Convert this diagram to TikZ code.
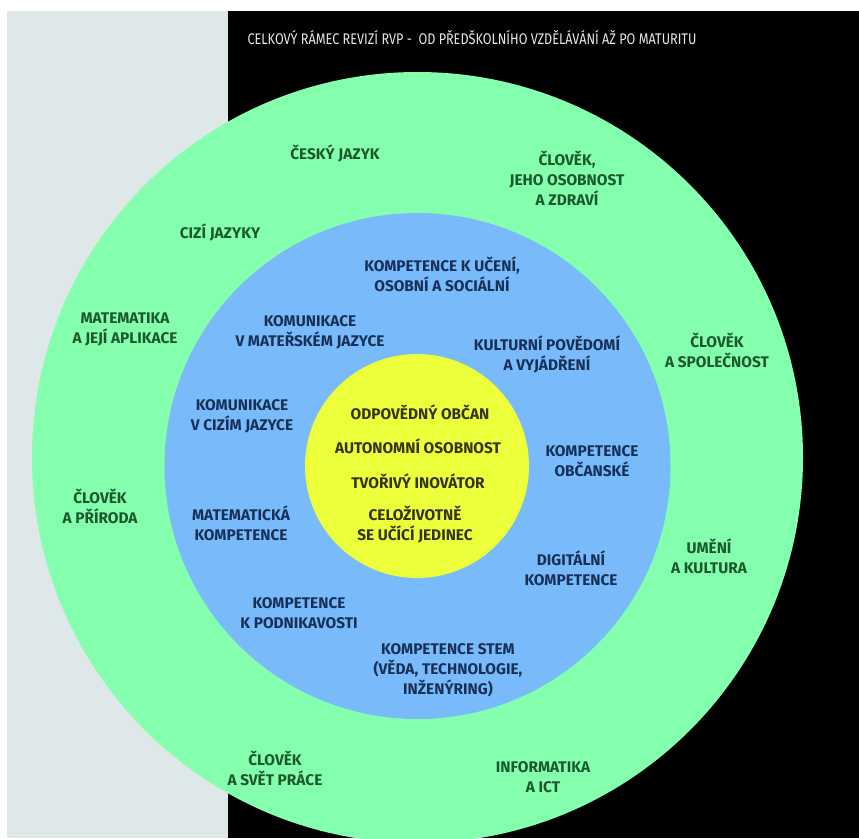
\documentclass[tikz,border=0pt]{standalone}
\usepackage{fontspec}
\setmainfont{Fira Sans}
\newfontfamily\titlefont[FakeStretch=0.82]{Fira Sans}
\usetikzlibrary{positioning}
\definecolor{bgleft}{RGB}{223,232,232}
\definecolor{ringgreen}{RGB}{132,255,174}
\definecolor{ringblue}{RGB}{120,186,250}
\definecolor{coreyellow}{RGB}{236,255,58}
\definecolor{subjtext}{RGB}{28,88,44}
\definecolor{komptext}{RGB}{24,48,88}
\definecolor{idealtext}{RGB}{52,52,20}
\definecolor{titletext}{RGB}{232,232,232}

\begin{document}
\begin{tikzpicture}[x=1pt,y=-1pt,
  lbl/.style={align=center,inner sep=0pt,font=\bfseries\fontsize{15.4}{20}\selectfont},
  subj/.style={lbl,text=subjtext},
  komp/.style={lbl,text=komptext},
  ideal/.style={lbl,text=idealtext}]
  \useasboundingbox (0,0) rectangle (859,838);
  \fill[bgleft] (7,11) rectangle (228,838);
  \fill[black] (228,11) rectangle (859,838);
  \begin{scope}
    \clip (7,11) rectangle (859,838);
    \fill[ringgreen] (417.5,457.5) circle (385.5pt);
  \end{scope}
  \fill[ringblue] (417.5,466) circle (253pt);
  \fill[coreyellow] (417,466) circle (112pt);
  \node[font=\titlefont\fontsize{15.4}{16}\selectfont,text=titletext,inner sep=0pt] (title) at (472,38)
    {CELKOVÝ RÁMEC REVIZÍ RVP -\ \ OD PŘEDŠKOLNÍHO VZDĚLÁVÁNÍ AŽ PO MATURITU};
  % vzdelavaci oblasti
  \node[subj] (cj) at (335,153) {ČESKÝ JAZYK};
  \node[subj] (zdravi) at (567,178) {ČLOVĚK,\\JEHO OSOBNOST\\A ZDRAVÍ};
  \node[subj] (cizi) at (220,232) {CIZÍ JAZYKY};
  \node[subj] (mat) at (125,329) {MATEMATIKA\\A JEJÍ APLIKACE};
  \node[subj] (spol) at (717,350) {ČLOVĚK\\A SPOLEČNOST};
  \node[subj] (prir) at (100,506) {ČLOVĚK\\A PŘÍRODA};
  \node[subj] (umeni) at (709,556) {UMĚNÍ\\A KULTURA};
  \node[subj] (prace) at (275,768) {ČLOVĚK\\A SVĚT PRÁCE};
  \node[subj] (ict) at (543,777) {INFORMATIKA\\A ICT};
  % klicove kompetence
  \node[komp] (uceni) at (442,274) {KOMPETENCE K UČENÍ,\\OSOBNÍ A SOCIÁLNÍ};
  \node[komp] (materj) at (310,332) {KOMUNIKACE\\V MATEŘSKÉM JAZYCE};
  \node[komp] (kult) at (547,354) {KULTURNÍ POVĚDOMÍ\\A VYJÁDŘENÍ};
  \node[komp] (cizij) at (242,416) {KOMUNIKACE\\V CIZÍM JAZYCE};
  \node[komp] (obc) at (592,461) {KOMPETENCE\\OBČANSKÉ};
  \node[komp] (matk) at (241,523) {MATEMATICKÁ\\KOMPETENCE};
  \node[komp] (dig) at (571,568) {DIGITÁLNÍ\\KOMPETENCE};
  \node[komp] (podn) at (299,613) {KOMPETENCE\\K PODNIKAVOSTI};
  \node[komp] (stem) at (448,670) {KOMPETENCE STEM\\(VĚDA, TECHNOLOGIE,\\INŽENÝRING)};
  % jadro
  \node[ideal] (obcan) at (420,412) {ODPOVĚDNÝ OBČAN};
  \node[ideal] (auton) at (418,446) {AUTONOMNÍ OSOBNOST};
  \node[ideal] (tvor) at (418,481) {TVOŘIVÝ INOVÁTOR};
  \node[ideal] (celoz) at (415,525) {CELOŽIVOTNĚ\\SE UČÍCÍ JEDINEC};
\end{tikzpicture}
\end{document}
